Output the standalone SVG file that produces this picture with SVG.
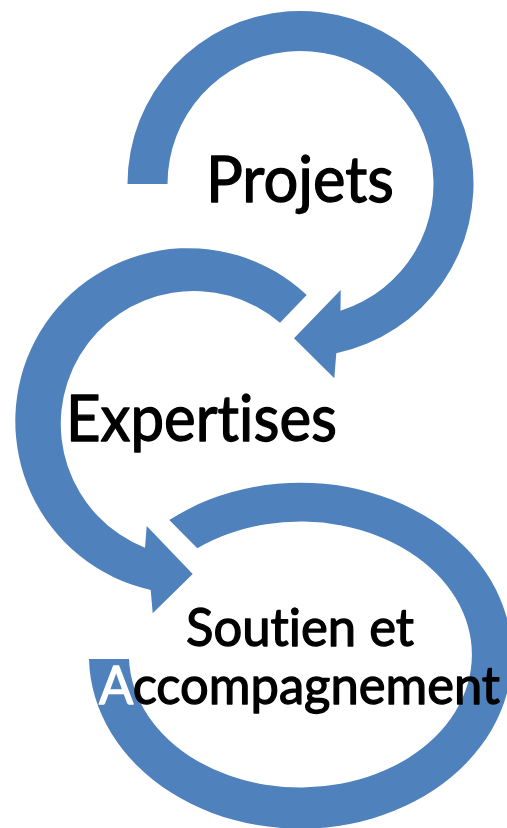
<svg xmlns="http://www.w3.org/2000/svg" width="507" height="828" viewBox="0 0 507 828">
<style>
.arrow{fill:#4F81BD;stroke:none}
.lbl{font-family:Lato,"Liberation Sans",sans-serif;font-weight:400;fill:#000;stroke:#000;stroke-width:1.3px;stroke-linejoin:round;font-variant-ligatures:none;font-feature-settings:"liga" 0,"clig" 0}
.big{font-size:63px}
.mid{font-size:52px}
.white{fill:#FFFFFF;stroke:#FFFFFF}
</style>
<rect width="507" height="828" fill="#FFFFFF"/>
<g id="connectors">
<path id="arrow-projets" class="arrow" d="M127.5,184 A173,173 0 1 1 336.3,353.2 L334.3,378.3 L294,338.3 L340.7,290 L340.5,310.8 A133,133 0 1 0 167.5,184 Z"/>
<path id="arrow-expertises" class="arrow" d="M306.7,295 A173,173 0 1 0 150.7,590 L152.7,613.3 L192.7,574 L146.7,526 L145,547.7 A133,133 0 1 1 280,322.7 Z"/>
<path id="arrow-soutien" class="arrow" d="M169.3,520 A211.5,173 0 1 1 89,659 L129,659 A171.5,133 0 1 0 197.3,548.3 Z"/>
</g>
<g id="node-projets">
<text class="lbl big" x="206" y="202" textLength="188" lengthAdjust="spacingAndGlyphs">Projets</text>
</g>
<g id="node-expertises">
<text class="lbl big" x="66" y="441" textLength="271" lengthAdjust="spacingAndGlyphs">Expertises</text>
</g>
<g id="node-soutien">
<text class="lbl mid" x="186" y="646" textLength="228" lengthAdjust="spacingAndGlyphs">Soutien et</text>
<text class="lbl mid" x="99" y="704" textLength="401" lengthAdjust="spacingAndGlyphs"><tspan class="white">A</tspan>ccompagnement</text>
</g>
</svg>
